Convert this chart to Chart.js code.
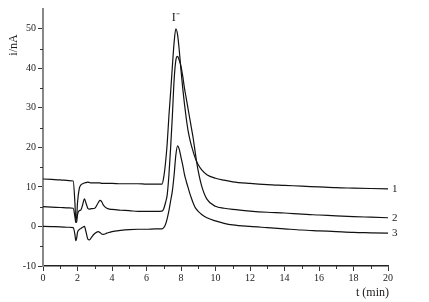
<!DOCTYPE html>
<html>
<head>
<meta charset="utf-8">
<script src="https://cdn.jsdelivr.net/npm/chart.js@4/dist/chart.umd.min.js"></script>
<style>
  html, body { margin: 0; padding: 0; background: #fff; }
  #wrap { width: 429px; height: 302px; }
</style>
</head>
<body>
<div id="wrap"><canvas id="chart"></canvas></div>
<script>
// ================= DATA =================
const times = [0, 0.5, 1, 1.5, 1.75, 1.85, 1.9, 1.95, 2.0, 2.1, 2.2, 2.3, 2.4, 2.5, 2.6, 2.7, 2.8, 3.0, 3.2, 3.3, 3.4, 3.5, 3.7, 4, 4.5, 5, 5.5, 6, 6.5, 6.9,
  7.0, 7.1, 7.2, 7.3, 7.4, 7.5, 7.6, 7.7, 7.8, 7.9, 8.0, 8.1, 8.2, 8.3, 8.4, 8.5, 8.6, 8.7, 8.8, 8.9, 9.0, 9.2, 9.5, 10, 10.5, 11, 12, 13, 14, 15, 16, 17, 18, 19, 20];

const curve1 = [12, 11.9, 11.8, 11.6, 11.5, 6, 1.5, 2.2, 6, 9.5, 10.5, 10.8, 11, 11.1, 11.2, 11.1, 11, 11, 11, 11, 10.9, 10.9, 10.9, 10.9, 10.8, 10.8, 10.8, 10.7, 10.7, 10.7,
  12.5, 16, 21, 28, 34, 40.5, 46.5, 50, 48.5, 44.5, 39.5, 35, 31, 27.5, 24.5, 22.3, 20.5, 19, 17.6, 16.5, 15.6, 14.3, 13.1, 12.2, 11.7, 11.3, 10.9, 10.6, 10.4, 10.2, 10, 9.8, 9.7, 9.6, 9.5];

const curve2 = [5, 4.9, 4.8, 4.7, 4.6, 2.5, 1, 1.2, 3, 4, 4.2, 5.5, 7, 5.8, 4.6, 4.4, 4.5, 4.6, 6, 6.6, 6.3, 5.4, 4.6, 4.3, 4.1, 4.0, 3.8, 3.8, 3.8, 3.9,
  4.5, 6, 8, 13, 20, 28, 37, 42, 43, 42, 40.5, 38, 35, 32.5, 30, 27.5, 25, 22.5, 19.5, 16.5, 14, 10.2, 6.9, 5.1, 4.6, 4.3, 3.9, 3.6, 3.4, 3.1, 2.9, 2.7, 2.5, 2.35, 2.2];

const curve3 = [0, -0.05, -0.1, -0.2, -0.3, -2, -3.6, -3, -1.5, -0.8, -0.5, -0.2, 0, -1.5, -3.2, -3.4, -2.8, -1.8, -1.3, -1.5, -1.9, -2, -1.7, -1.3, -1, -0.8, -0.7, -0.7, -0.6, -0.6,
  -0.3, 0.5, 2, 4, 6.5, 9, 13, 18, 20.4, 19.5, 17.5, 15.5, 13.2, 11.5, 10, 8.5, 7.2, 6, 5, 4.3, 3.8, 3, 2.2, 1.4, 0.8, 0.4, 0, -0.3, -0.6, -0.9, -1.1, -1.3, -1.5, -1.6, -1.7];

const curveLabels = ["1", "2", "3"];
const peakLabel = "I\u207B";

const xTicks = [0, 2, 4, 6, 8, 10, 12, 14, 16, 18, 20];
const yTicks = [-10, 0, 10, 20, 30, 40, 50];

const FONT = "'Liberation Serif', 'Times New Roman', serif";

function toPoints(values) {
  return times.map((t, i) => ({ x: t, y: values[i] }));
}

// ================= EXTRA DRAWING =================
const extras = {
  id: "extras",
  afterDraw(chart) {
    const ctx = chart.ctx;
    const xs = chart.scales.x;
    const ys = chart.scales.y;
    ctx.save();
    ctx.strokeStyle = "#333";
    ctx.lineWidth = 1;

    // minor ticks
    for (let v = 1; v < 20; v += 2) {
      const px = Math.round(xs.getPixelForValue(v)) + 0.5;
      ctx.beginPath();
      ctx.moveTo(px, xs.top);
      ctx.lineTo(px, xs.top + 3);
      ctx.stroke();
    }
    for (let v = -5; v < 55; v += 10) {
      const py = Math.round(ys.getPixelForValue(v)) + 0.5;
      ctx.beginPath();
      ctx.moveTo(ys.right - 3, py);
      ctx.lineTo(ys.right, py);
      ctx.stroke();
    }

    ctx.fillStyle = "#1a1a1a";
    ctx.font = "11px " + FONT;

    // curve numbers at the right end
    const series = [curve1, curve2, curve3];
    ctx.textAlign = "left";
    ctx.textBaseline = "middle";
    series.forEach((s, i) => {
      const px = xs.getPixelForValue(times[times.length - 1]) + 4;
      const py = ys.getPixelForValue(s[s.length - 1]);
      ctx.fillText(curveLabels[i], px, py);
    });

    // peak label
    const peakIdx = curve1.indexOf(Math.max(...curve1));
    ctx.textAlign = "center";
    ctx.font = "12px " + FONT;
    ctx.fillText(peakLabel, xs.getPixelForValue(times[peakIdx]), ys.getPixelForValue(curve1[peakIdx]) - 11);

    // axis titles
    ctx.textAlign = "right";
    ctx.fillText("t (min)", xs.right + 1, chart.height - 9);

    ctx.save();
    ctx.translate(14, 45);
    ctx.rotate(-Math.PI / 2);
    ctx.textAlign = "center";
    ctx.fillText("i/nA", 0, 0);
    ctx.restore();

    ctx.restore();
  }
};

// ================= CHART =================
const lineStyle = {
  borderColor: "#111",
  borderWidth: 1.2,
  pointRadius: 0,
  fill: false,
  cubicInterpolationMode: "monotone"
};

new Chart(document.getElementById("chart"), {
  type: "line",
  data: {
    datasets: [
      Object.assign({ label: curveLabels[0], data: toPoints(curve1) }, lineStyle),
      Object.assign({ label: curveLabels[1], data: toPoints(curve2) }, lineStyle),
      Object.assign({ label: curveLabels[2], data: toPoints(curve3) }, lineStyle)
    ]
  },
  options: {
    responsive: true,
    maintainAspectRatio: false,
    animation: false,
    layout: { padding: { top: 9, right: 41, left: 0, bottom: 0 } },
    plugins: {
      legend: { display: false },
      tooltip: { enabled: false }
    },
    scales: {
      x: {
        type: "linear",
        min: 0,
        max: 20,
        afterBuildTicks: s => { s.ticks = xTicks.map(v => ({ value: v })); },
        afterFit: s => { s.height = 36; },
        border: { color: "#222", width: 1.5 },
        grid: { drawOnChartArea: false, tickLength: 5, color: "#333" },
        ticks: {
          color: "#1a1a1a",
          font: { family: FONT, size: 10 },
          padding: 1,
          maxRotation: 0
        }
      },
      y: {
        type: "linear",
        min: -10,
        max: 55,
        afterBuildTicks: s => { s.ticks = yTicks.map(v => ({ value: v })); },
        afterFit: s => { s.width = 43; },
        border: { color: "#888", width: 2 },
        grid: { drawOnChartArea: false, tickLength: 5, color: "#333" },
        ticks: {
          color: "#1a1a1a",
          font: { family: FONT, size: 10 },
          padding: 2
        }
      }
    }
  },
  plugins: [extras]
});
</script>
</body>
</html>
